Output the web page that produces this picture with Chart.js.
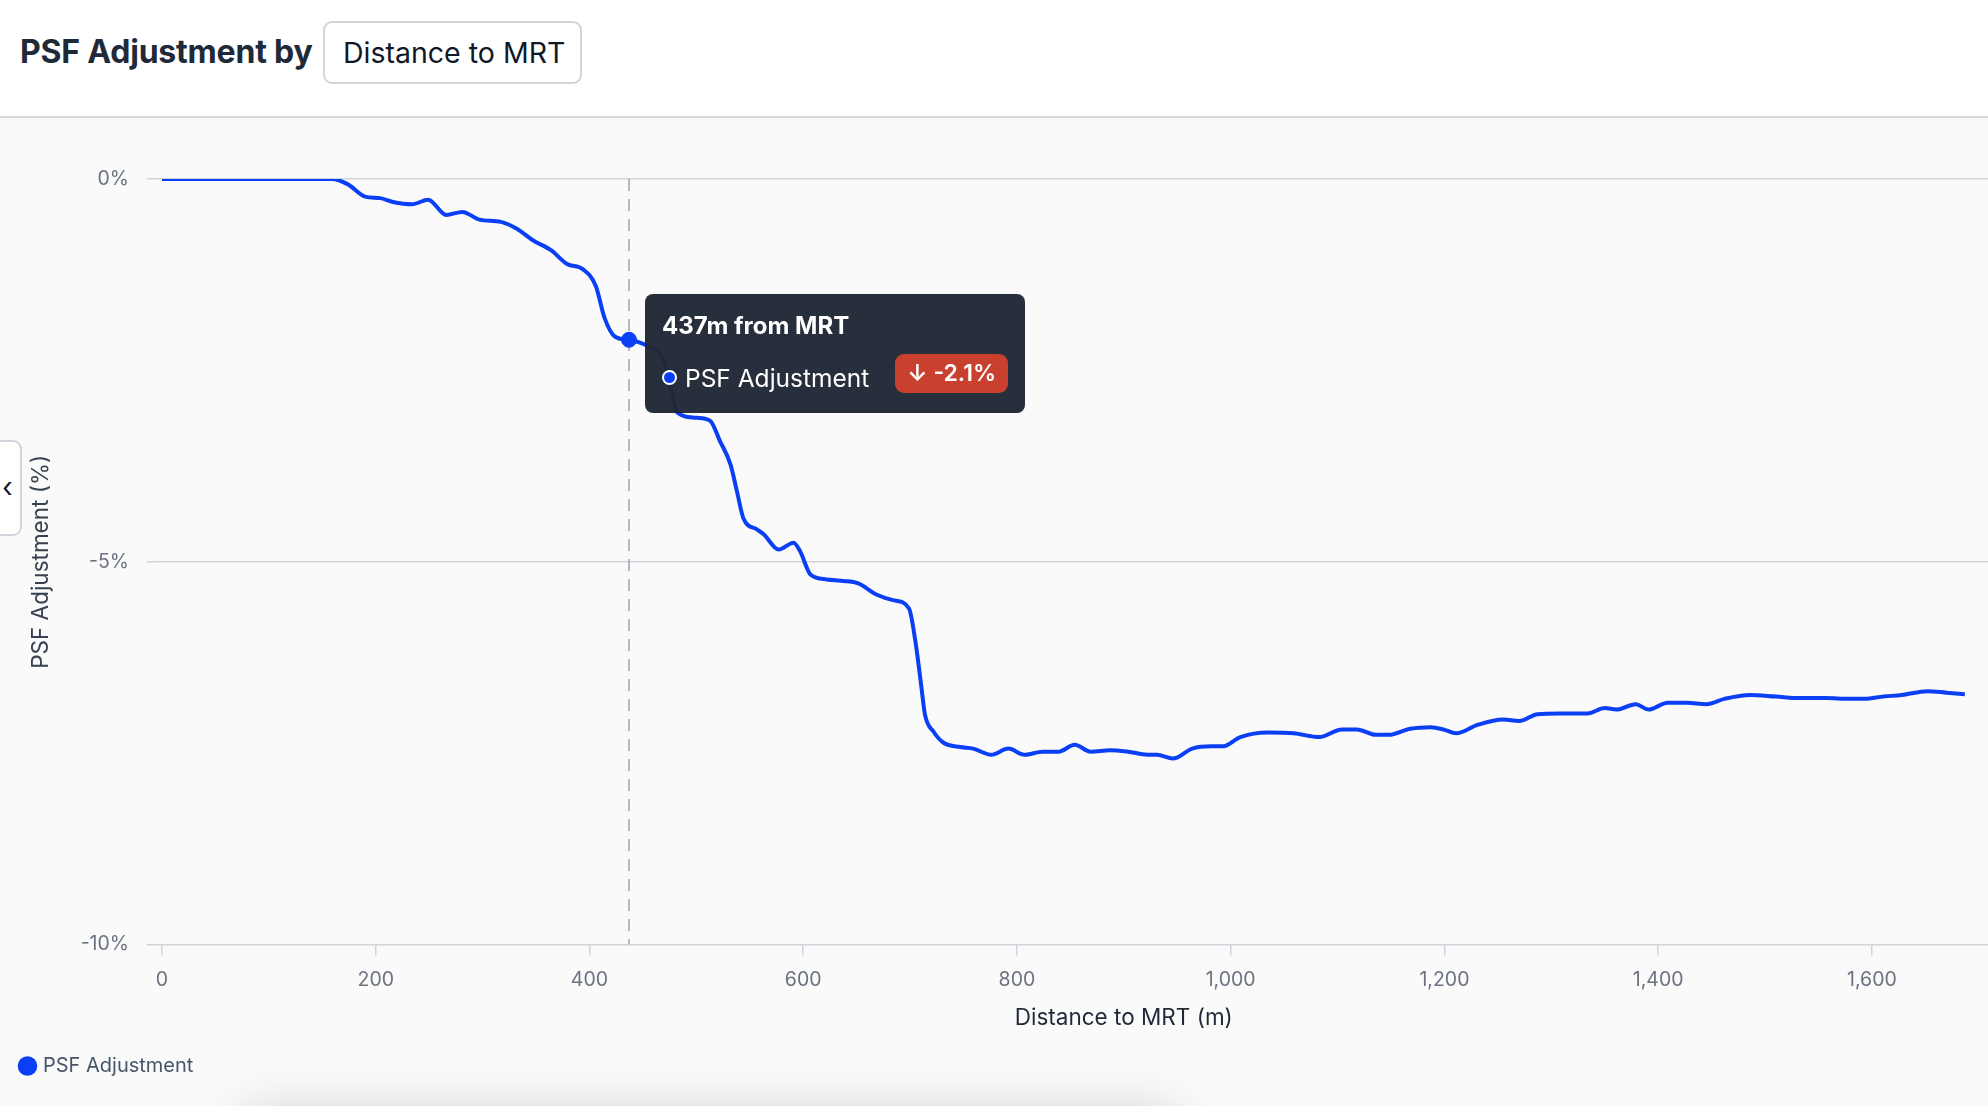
<!DOCTYPE html>
<html>
<head>
<meta charset="utf-8">
<script src="https://cdn.jsdelivr.net/npm/chart.js@4.4.1/dist/chart.umd.min.js"></script>
<style>
  html, body { margin: 0; padding: 0; }
  body {
    width: 1988px; height: 1106px; overflow: hidden; position: relative;
    background: #fafafa; font-family: Inter, "Noto Sans", sans-serif;
  }
  .header {
    position: absolute; left: 0; top: 0; width: 1988px; height: 116px;
    background: #fff; border-bottom: 2px solid #d4d7dc;
  }
  .header h1 {
    position: absolute; left: 20px; top: 32px; margin: 0;
    font-size: 32px; line-height: 40px; font-weight: 700; color: #1f2937;
    letter-spacing: -0.2px;
  }
  .select {
    position: absolute; left: 323px; top: 21px; height: 63px; width: 259px; box-sizing: border-box;
    border: 2px solid #d1d5db; border-radius: 9px; background: #fff;
    font-size: 28.5px; color: #111827; display: flex; align-items: center;
    padding-left: 18px;
  }
  .wrap { position: absolute; left: 0; top: 118px; width: 2123px; height: 988px; }
  .collapse {
    position: absolute; left: -12px; top: 440px; width: 34px; height: 96px;
    background: #fff; border: 2px solid #d1d5db; border-radius: 9px; box-sizing: border-box;
  }
  .collapse span {
    position: absolute; left: 12px; top: 28px; font-size: 28px; color: #111827;
  }
  .shade {
    position: absolute; left: 240px; top: 1118px; width: 940px; height: 60px;
    border-radius: 20px; box-shadow: 0 -8px 50px rgba(0,0,0,0.16);
  }
  #tip {
    position: absolute; display: none; background: rgba(31,38,52,0.96);
    border-radius: 8px; color: #fff; width: 380px; height: 119px; box-sizing: border-box;
    padding: 17px 17px; pointer-events: none;
  }
  #tip .t { font-size: 24px; font-weight: 700; line-height: 30px; }
  #tip .row { display: flex; align-items: center; margin-top: 22px; height: 30px; }
  #tip .dot {
    width: 11px; height: 11px; border-radius: 50%; background: #0b3ff5;
    border: 2px solid #fff; margin-right: 8px;
  }
  #tip .lbl { font-size: 24.5px; flex: 1; }
  #tip .pill {
    background: #c9402f; border-radius: 9px; padding: 0 12px; height: 39px; line-height: 39px;
    font-size: 23px; font-weight: 600; margin-top: -9px;
  }
</style>
</head>
<body>
<div class="header">
  <h1>PSF Adjustment by</h1>
  <div class="select">Distance to MRT</div>
</div>
<div class="wrap"><canvas id="psfChart"></canvas></div>
<div class="collapse"><span>&lsaquo;</span></div>
<div class="shade"></div>
<div id="tip"></div>

<script>
// distance from MRT (m) and PSF adjustment (%)
const distances = [0, 159, 174, 190, 204, 216, 234, 249, 266, 281, 297, 317, 332, 347, 364, 379, 394, 406, 414, 424,
  437, 457, 468, 474, 482, 501, 513, 522, 532, 538, 544, 557, 563, 577, 591, 597, 607, 622, 638, 651,
  669, 684, 699, 705, 710, 714, 722, 731, 747, 759, 776, 792, 807, 824, 839, 854, 869, 887, 904, 922,
  931, 946, 964, 982, 993, 1009, 1035, 1059, 1083, 1104, 1118, 1136, 1148, 1168, 1187, 1199, 1211, 1231, 1255, 1270,
  1287, 1308, 1334, 1350, 1361, 1379, 1391, 1409, 1427, 1445, 1462, 1486, 1510, 1533, 1557, 1579, 1593, 1611, 1628, 1652,
  1670, 1687];
const adjustments = [0, 0, -0.07, -0.23, -0.25, -0.30, -0.33, -0.27, -0.47, -0.43, -0.53, -0.56, -0.65, -0.80, -0.93, -1.11, -1.18, -1.40, -1.81, -2.06,
  -2.10, -2.20, -2.33, -2.59, -3.05, -3.12, -3.16, -3.42, -3.73, -4.08, -4.43, -4.58, -4.64, -4.84, -4.75, -4.86, -5.17, -5.23, -5.25, -5.28,
  -5.43, -5.50, -5.61, -6.04, -6.57, -7.00, -7.22, -7.36, -7.42, -7.44, -7.52, -7.44, -7.52, -7.48, -7.48, -7.39, -7.48, -7.46, -7.48, -7.52,
  -7.52, -7.57, -7.44, -7.41, -7.41, -7.29, -7.23, -7.24, -7.29, -7.19, -7.19, -7.26, -7.26, -7.18, -7.16, -7.19, -7.24, -7.13, -7.06, -7.08,
  -6.99, -6.98, -6.98, -6.91, -6.93, -6.86, -6.93, -6.84, -6.84, -6.86, -6.79, -6.74, -6.76, -6.78, -6.78, -6.79, -6.79, -6.76, -6.74, -6.69,
  -6.71, -6.73];
const yTicks = [0, -5, -10];
const hoverDistance = 437;

const lineBlue = '#0b3ff5';
Chart.defaults.font.family = 'Inter, "Noto Sans", sans-serif';

// dashed line under the active point
const crosshair = {
  id: 'crosshair',
  beforeDatasetsDraw(chart) {
    const active = chart.tooltip.getActiveElements();
    if (!active.length) return;
    const x = active[0].element.x;
    const { top, bottom } = chart.chartArea;
    const ctx = chart.ctx;
    ctx.save();
    ctx.strokeStyle = '#a3a8b1';
    ctx.lineWidth = 1.6;
    ctx.setLineDash([12, 8]);
    ctx.beginPath();
    ctx.moveTo(x, top);
    ctx.lineTo(x, bottom);
    ctx.stroke();
    ctx.restore();
  }
};

function externalTip(context) {
  const tip = document.getElementById('tip');
  const t = context.tooltip;
  if (t.opacity === 0 || !t.dataPoints || !t.dataPoints.length) { tip.style.display = 'none'; return; }
  const p = t.dataPoints[0];
  const v = p.parsed.y;
  tip.innerHTML = '<div class="t">' + p.parsed.x + 'm from MRT</div>' +
    '<div class="row"><div class="dot"></div><div class="lbl">' + p.dataset.label + '</div>' +
    '<div class="pill">' + (v < 0 ? '&darr; ' : '&uarr; ') + v.toFixed(1) + '%</div></div>';
  const box = context.chart.canvas.getBoundingClientRect();
  tip.style.display = 'block';
  tip.style.left = (box.left + t.caretX + 16) + 'px';
  tip.style.top = (box.top + t.caretY - 46) + 'px';
}

const chart = new Chart(document.getElementById('psfChart'), {
  type: 'line',
  data: {
    datasets: [{
      label: 'PSF Adjustment',
      data: distances.map((d, i) => ({ x: d, y: adjustments[i] })),
      borderColor: lineBlue,
      backgroundColor: lineBlue,
      borderWidth: 4,
      cubicInterpolationMode: 'monotone',
      pointRadius: 0,
      pointHoverRadius: 7.5,
      pointHoverBorderWidth: 1,
      pointHoverBackgroundColor: lineBlue,
      pointHoverBorderColor: lineBlue
    }]
  },
  options: {
    responsive: true,
    maintainAspectRatio: false,
    animation: false,
    interaction: { mode: 'index', intersect: false },
    layout: { padding: { top: 61, left: 12, right: 0, bottom: 20 } },
    plugins: {
      legend: {
        position: 'bottom',
        align: 'start',
        labels: {
          usePointStyle: true, pointStyle: 'circle', boxWidth: 11, boxHeight: 11,
          color: '#475569', font: { size: 20 }, padding: 10
        }
      },
      tooltip: { enabled: false, external: externalTip }
    },
    scales: {
      x: {
        type: 'linear',
        min: 0,
        max: 1800,
        ticks: {
          stepSize: 200, color: '#6b7280', font: { size: 19.5 }, padding: 12.5,
          callback: v => v.toLocaleString('en-US')
        },
        grid: { drawOnChartArea: false, tickLength: 11, color: '#d1d5db', lineWidth: 1.5 },
        border: { display: false },
        title: {
          display: true, text: 'Distance to MRT (m)', color: '#1f2937',
          font: { size: 22.5 }, padding: { top: 0.5, bottom: 14.5 }
        }
      },
      y: {
        min: -10,
        max: 0,
        afterFit(scale) { scale.width = 150; },
        afterBuildTicks(scale) { scale.ticks = yTicks.map(v => ({ value: v })); },
        ticks: { color: '#6b7280', font: { size: 19.5 }, padding: 18, callback: v => v + '%' },
        grid: { color: '#d1d5db', lineWidth: 1.5, tickLength: 15 },
        border: { display: false },
        title: {
          display: true, text: 'PSF Adjustment (%)', color: '#374151',
          font: { size: 22.5 }, padding: { top: 16, bottom: 4 }
        }
      }
    }
  },
  plugins: [crosshair]
});

const idx = distances.indexOf(hoverDistance);
const meta = chart.getDatasetMeta(0);
const pt = meta.data[idx];
chart.setActiveElements([{ datasetIndex: 0, index: idx }]);
chart.tooltip.setActiveElements([{ datasetIndex: 0, index: idx }], { x: pt.x, y: pt.y });
chart.update();
</script>
</body>
</html>
